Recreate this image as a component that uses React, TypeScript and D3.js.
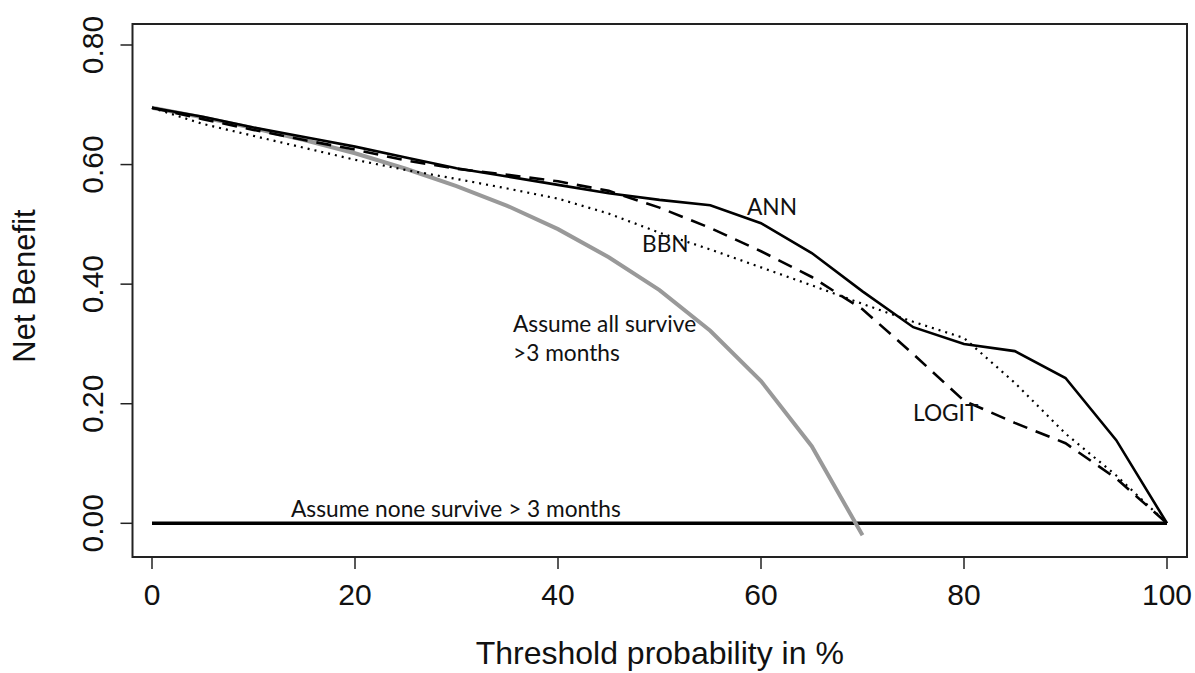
import React from "react";
import * as d3 from "d3";

const thresholds = [0, 5, 10, 15, 20, 25, 30, 35, 40, 45, 50, 55, 60, 65, 70, 75, 80, 85, 90, 95, 100];
const annValues = [0.695, 0.68, 0.662, 0.646, 0.63, 0.612, 0.594, 0.58, 0.566, 0.552, 0.541, 0.532, 0.502, 0.452, 0.388, 0.328, 0.3, 0.288, 0.243, 0.139, 0];
const logitValues = [0.695, 0.676, 0.658, 0.641, 0.625, 0.607, 0.593, 0.583, 0.572, 0.556, 0.528, 0.494, 0.455, 0.412, 0.358, 0.283, 0.205, 0.168, 0.134, 0.075, 0];
const bbnValues = [0.695, 0.668, 0.648, 0.628, 0.608, 0.591, 0.576, 0.56, 0.543, 0.518, 0.486, 0.458, 0.428, 0.398, 0.367, 0.337, 0.31, 0.235, 0.15, 0.08, 0];
const allThresholds = [0, 5, 10, 15, 20, 25, 30, 35, 40, 45, 50, 55, 60, 65, 70];
const allValues = [0.695, 0.679, 0.661, 0.641, 0.619, 0.593, 0.564, 0.531, 0.492, 0.445, 0.39, 0.322, 0.238, 0.129, -0.02];
const noneThresholds = [0, 100];
const noneValues = [0, 0];
const xTicks = [0, 20, 40, 60, 80, 100];
const yTicks = [0, 0.2, 0.4, 0.6, 0.8];

export default function App() {
  const W = 1195, H = 673;
  const box = { left: 132.5, right: 1187, top: 24, bottom: 557 };
  const x = d3.scaleLinear().domain([0, 100]).range([152, 1167]);
  const y = d3.scaleLinear().domain([0, 0.8]).range([523.3, 45]);
  const line = d3.line<[number, number]>().x((d) => x(d[0])).y((d) => y(d[1]));
  const zip = (xs: number[], ys: number[]) => xs.map((v, i) => [v, ys[i]] as [number, number]);
  const axisFont = "'Liberation Sans', Arial, sans-serif";
  const noteFont = "Lato, 'Open Sans', sans-serif";
  return (
    <svg width={W} height={H} style={{ position: "absolute", left: 0, top: 0, background: "#fff" }}>
      <rect x={0} y={0} width={W} height={H} fill="#fff" />
      {/* lines */}
      <path d={line(zip(noneThresholds, noneValues)) || ""} fill="none" stroke="#000" strokeWidth={3.5} />
      <path d={line(zip(allThresholds, allValues)) || ""} fill="none" stroke="#999" strokeWidth={4} />
      <path d={line(zip(thresholds, bbnValues)) || ""} fill="none" stroke="#000" strokeWidth={2.2} strokeDasharray="2,5" />
      <path d={line(zip(thresholds, logitValues)) || ""} fill="none" stroke="#000" strokeWidth={2.6} strokeDasharray="15,9" />
      <path d={line(zip(thresholds, annValues)) || ""} fill="none" stroke="#000" strokeWidth={2.6} />
      {/* frame */}
      <rect x={box.left} y={box.top} width={box.right - box.left} height={box.bottom - box.top} fill="none" stroke="#222" strokeWidth={2} />
      {/* x ticks */}
      {xTicks.map((t) => (
        <g key={"x" + t}>
          <line x1={x(t)} x2={x(t)} y1={box.bottom} y2={box.bottom + 12} stroke="#222" strokeWidth={1.5} />
          <text x={x(t)} y={605} textAnchor="middle" fontFamily={axisFont} fontSize={30} fill="#111">{t}</text>
        </g>
      ))}
      {yTicks.map((t) => (
        <g key={"y" + t}>
          <line x1={box.left - 12} x2={box.left} y1={y(t)} y2={y(t)} stroke="#222" strokeWidth={1.5} />
          <text transform={`translate(103,${y(t)}) rotate(-90)`} textAnchor="middle" fontFamily={axisFont} fontSize={30} fill="#111">{t.toFixed(2)}</text>
        </g>
      ))}
      <text x={(box.left + box.right) / 2} y={664} textAnchor="middle" fontFamily={axisFont} fontSize={32} fill="#111">Threshold probability in %</text>
      <text transform={`translate(35,286) rotate(-90)`} textAnchor="middle" fontFamily={axisFont} fontSize={31} fill="#111">Net Benefit</text>
      {/* annotations */}
      <g fontFamily={noteFont} fontSize={22.7} fill="#111">
        <text x={747} y={215}>ANN</text>
        <text x={642} y={252}>BBN</text>
        <text x={513} y={332}>Assume all survive</text>
        <text x={513} y={361}>&gt;3 months</text>
        <text x={913} y={421}>LOGIT</text>
        <text x={291} y={517}>Assume none survive &gt; 3 months</text>
      </g>
    </svg>
  );
}
